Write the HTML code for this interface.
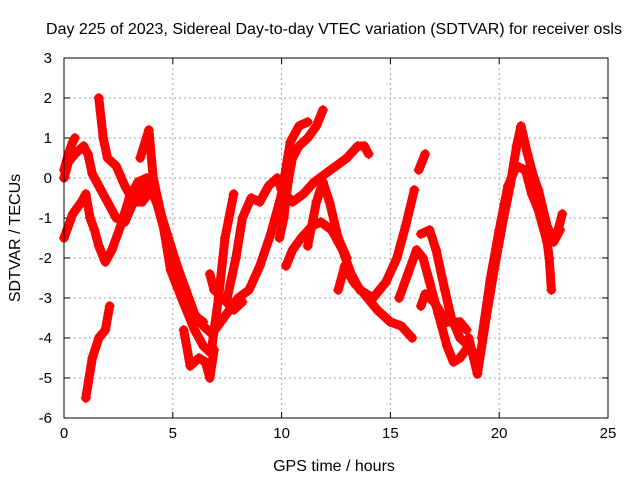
<!DOCTYPE html>
<html><head><meta charset="utf-8"><style>
html,body{margin:0;padding:0;background:#fff;}
svg{display:block;font-family:"Liberation Sans",sans-serif;}
</style></head><body>
<svg id="chart" width="640" height="480" viewBox="0 0 640 480">
<text x="334" y="34" font-size="16" text-anchor="middle" fill="#000">Day 225 of 2023, Sidereal Day-to-day VTEC variation (SDTVAR) for receiver osls</text>
<g id="grid"></g>
<g id="ticks"></g>
<g id="plot"></g>
<rect x="64" y="58" width="544" height="360" fill="none" stroke="#000" stroke-width="1"/>
<text x="334" y="471" font-size="16" text-anchor="middle">GPS time / hours</text>
<text x="20" y="238" font-size="16" text-anchor="middle" transform="rotate(-90 20 238)">SDTVAR / TECUs</text>
</svg>
<script>
const xTicks = [0,5,10,15,20,25];
const yTicks = [3,2,1,0,-1,-2,-3,-4,-5,-6];
const track1 = [[0,0],[0.2,0.4],[0.5,0.6],[0.9,0.8],[1.1,0.6],[1.3,0.1],[1.6,-0.2],[2.0,-0.6],[2.4,-1.0],[2.8,-1.1],[3.2,-0.6],[3.6,-0.2],[4.0,-0.3],[4.4,-0.8],[4.8,-1.5],[5.2,-2.2],[5.6,-2.8],[6.0,-3.4],[6.4,-3.7],[6.8,-3.9],[7.2,-3.6],[7.6,-3.3],[8.0,-3.0],[8.5,-2.8],[9.0,-2.2],[9.5,-1.4],[10.0,-0.4],[10.4,0.9],[10.8,1.3],[11.2,1.4]];
const track2 = [[0,-1.5],[0.4,-0.9],[0.8,-0.6],[1.0,-0.4],[1.2,-1.0],[1.4,-1.3],[1.6,-1.7],[1.9,-2.1],[2.2,-1.8],[2.6,-1.2],[3.0,-0.5],[3.4,-0.1],[3.8,0.0],[4.2,-0.5],[4.7,-1.5],[5.1,-2.4],[5.5,-3.0],[5.9,-3.4],[6.4,-3.6]];
const track3 = [[0,0.2],[0.2,0.6],[0.4,0.9],[0.5,1.0]];
const track4 = [[1.6,2.0],[1.8,1.0],[2.0,0.5],[2.4,0.3],[2.8,-0.2],[3.2,-0.6],[3.6,-0.6],[4.0,-0.3]];
const track5 = [[1.0,-5.5],[1.3,-4.5],[1.6,-4.0],[1.9,-3.8],[2.1,-3.2]];
const track6 = [[3.5,0.5],[3.9,1.2],[4.1,0.0],[4.5,-1.0],[4.9,-2.3],[5.4,-3.0],[6.0,-3.8],[6.4,-4.2],[6.8,-4.4]];
const track7 = [[5.5,-3.8],[5.8,-4.7],[6.2,-4.5],[6.5,-4.6],[6.7,-5.0],[6.9,-4.3]];
const track8 = [[6.7,-2.4],[6.9,-2.8],[7.3,-3.0],[7.8,-3.3],[8.2,-3.1]];
const track9 = [[6.8,-4.2],[7.1,-3.0],[7.4,-1.5],[7.8,-0.4]];
const track10 = [[7.5,-3.0],[7.9,-2.0],[8.2,-1.0],[8.6,-0.5],[9.0,-0.6],[9.4,-0.2],[9.8,0.0],[10.0,-0.3],[10.5,-0.6],[11.0,-0.4],[11.5,-0.1],[12.0,0.1],[12.5,0.3],[13.0,0.5],[13.5,0.8],[13.8,0.8],[14.0,0.6]];
const track11 = [[9.9,-1.5],[10.1,-1.0],[10.3,-0.1],[10.5,0.5],[10.8,0.8],[11.2,1.0],[11.6,1.3],[11.9,1.7]];
const track12 = [[10.2,-2.2],[10.5,-1.8],[10.9,-1.5],[11.4,-1.2],[11.8,-1.1],[12.3,-1.3],[12.8,-1.8],[13.2,-2.4],[13.6,-2.8],[14.2,-3.0]];
const track13 = [[12.6,-2.8],[12.9,-2.2],[13.3,-2.6],[13.8,-2.9],[14.4,-3.3],[15.0,-3.6],[15.5,-3.7],[16.0,-4.0]];
const track14 = [[11.2,-1.7],[11.6,-0.6],[11.9,-0.1],[12.2,-0.6],[12.6,-1.5],[13.0,-2.0]];
const track15 = [[14.2,-3.0],[14.8,-2.6],[15.3,-2.0],[15.7,-1.2],[16.1,-0.3]];
const track16 = [[16.3,0.2],[16.6,0.6]];
const track17 = [[16.4,-1.4],[16.8,-1.3],[17.1,-1.8],[17.5,-2.8],[17.8,-3.5],[18.2,-4.0],[18.6,-4.2],[19.0,-4.5]];
const track18 = [[15.4,-3.0],[15.8,-2.4],[16.2,-1.8],[16.5,-2.0],[16.8,-2.6],[17.2,-3.4],[17.6,-4.2],[17.9,-4.6],[18.2,-4.5],[18.6,-4.2]];
const track19 = [[16.4,-3.2],[16.6,-2.9],[17.0,-3.1],[17.6,-3.6],[18.2,-3.6],[18.5,-3.8]];
const track20 = [[18.6,-4.0],[19.0,-4.9],[19.4,-3.5],[19.8,-2.2],[20.2,-1.0],[20.5,-0.2],[20.8,0.8],[21.0,1.3],[21.3,0.6],[21.6,0.0],[21.8,-0.3],[22.2,-1.2],[22.5,-1.6],[22.8,-1.3]];
const track21 = [[19.2,-4.0],[19.6,-2.5],[20.0,-1.3],[20.4,-0.2],[20.8,0.3],[21.2,0.2],[21.5,-0.4],[21.8,-0.8],[22.1,-1.2],[22.4,-1.5],[22.7,-1.3],[22.9,-0.9]];
const track22 = [[21.3,0.2],[21.6,-0.4],[21.9,-1.0],[22.2,-1.6],[22.3,-2.0],[22.4,-2.8]];
const tracks = [track1,track2,track3,track4,track5,track6,track7,track8,track9,track10,track11,track12,track13,track14,track15,track16,track17,track18,track19,track20,track21,track22];

const NS="http://www.w3.org/2000/svg";
const L=64,R=608,T=58,B=418;
function xs(v){return L+(v-0)/25*(R-L);}
function ys(v){return T+(3-v)/9*(B-T);}
const grid=document.getElementById('grid'),ticks=document.getElementById('ticks'),plot=document.getElementById('plot');
function mk(tag,attrs,parent){const e=document.createElementNS(NS,tag);for(const k in attrs)e.setAttribute(k,attrs[k]);parent.appendChild(e);return e;}
xTicks.forEach(t=>{
  const x=xs(t);
  if(t>0&&t<25){const g=mk('line',{x1:x,x2:x,y1:T,y2:B,stroke:'#a0a0a0','stroke-dasharray':'2,3'},grid);
  
  }
  mk('line',{x1:x,x2:x,y1:B,y2:B-6,stroke:'#000'},ticks);
  mk('line',{x1:x,x2:x,y1:T,y2:T+6,stroke:'#000'},ticks);
  const lb=mk('text',{x:x,y:B+20,'font-size':15,'text-anchor':'middle'},ticks);lb.textContent=t;
  
  
});
yTicks.forEach(t=>{
  const y=ys(t);
  if(t<3&&t>-6){const g=mk('line',{x1:L,x2:R,y1:y,y2:y,stroke:'#a0a0a0','stroke-dasharray':'2,3'},grid);
  
  }
  mk('line',{x1:L,x2:L+6,y1:y,y2:y,stroke:'#000'},ticks);
  mk('line',{x1:R,x2:R-6,y1:y,y2:y,stroke:'#000'},ticks);
  const lb=mk('text',{x:L-12,y:y+5,'font-size':15,'text-anchor':'end'},ticks);lb.textContent=t;
  
  
});
tracks.forEach((tr,i)=>{
  const pts=tr.map(p=>xs(p[0]).toFixed(1)+','+ys(p[1]).toFixed(1)).join(' ');
  const pl=mk('polyline',{points:pts,fill:'none',stroke:'#ff0000','stroke-width':9,'stroke-linejoin':'round','stroke-linecap':'round'},plot);
  
  
  tr.forEach(p=>{
    const x=xs(p[0]),y=ys(p[1]);
    const m=mk('path',{d:`M${x-5},${y}H${x+5}M${x},${y-5}V${y+5}`,stroke:'#ff0000','stroke-width':1.2},plot);
    
    
  });
});
</script>
</body></html>
